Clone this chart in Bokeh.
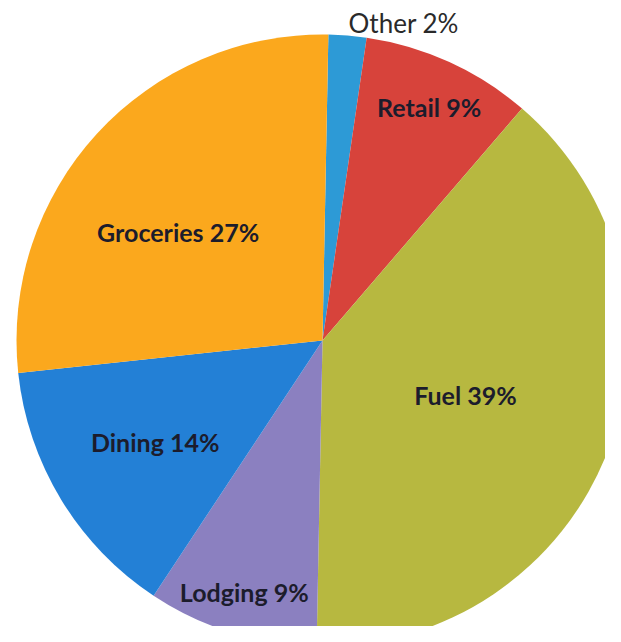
import math
from bokeh.plotting import figure
from bokeh.models import ColumnDataSource, Range1d
from bokeh.core.properties import value
from bokeh.embed import file_html
from bokeh.resources import INLINE

# data
categories = ["Other", "Retail", "Fuel", "Lodging", "Dining", "Groceries"]
shares = [2, 9, 39, 9, 14, 27]
colors = ["#2d9ad6", "#d7433b", "#b7b840", "#8b80c0", "#2380d6", "#fba81d"]

# layout (pixel-like data units, y measured upward from the bottom)
W, H = 605, 626
cx, cy, R = 322, H - 340, 306
rot = math.radians(1.1)          # slight clockwise rotation of the scan
label_r = [1.04, 0.84, 0.50, 0.86, 0.64, 0.59]
label_da = [0, 0, 0, 0, 0, -5.6]  # degrees, label angle nudges

total = sum(shares)
starts, ends, lx, ly, labels = [], [], [], [], []
cum = 0.0
for i, s in enumerate(shares):
    a0 = 2 * math.pi * cum / total + rot
    cum += s
    a1 = 2 * math.pi * cum / total + rot
    starts.append(math.pi / 2 - a0)
    ends.append(math.pi / 2 - a1)
    mid = (a0 + a1) / 2 + math.radians(label_da[i])
    lx.append(cx + R * label_r[i] * math.sin(mid))
    ly.append(cy + R * label_r[i] * math.cos(mid))
    labels.append(f"{categories[i]} {s}%")

src = ColumnDataSource(dict(start=starts, end=ends, color=colors,
                            x=[cx] * len(shares), y=[cy] * len(shares)))

p = figure(width=W, height=H, output_backend="svg", toolbar_location=None,
           x_range=Range1d(0, W), y_range=Range1d(0, H),
           min_border=0, outline_line_color=None)
p.axis.visible = False
p.grid.visible = False
p.background_fill_color = "white"

p.wedge(x="x", y="y", radius=R, start_angle="start", end_angle="end",
        direction="clock", color="color", line_color=None, source=src)

out_src = ColumnDataSource(dict(x=lx[:1], y=ly[:1], t=labels[:1]))
in_src = ColumnDataSource(dict(x=lx[1:], y=ly[1:], t=labels[1:]))

p.text(x="x", y="y", text="t", source=out_src, text_align="left",
       text_baseline="middle", text_font=value("Lato"),
       text_font_size="26px", text_color="#2a2a2a")
p.text(x="x", y="y", text="t", source=in_src, text_align="center",
       text_baseline="middle", text_font=value("Lato"),
       text_font_size="25px", text_color="#1c1c2c", text_font_style="bold")

open("out.html", "w").write(file_html(p, INLINE))
